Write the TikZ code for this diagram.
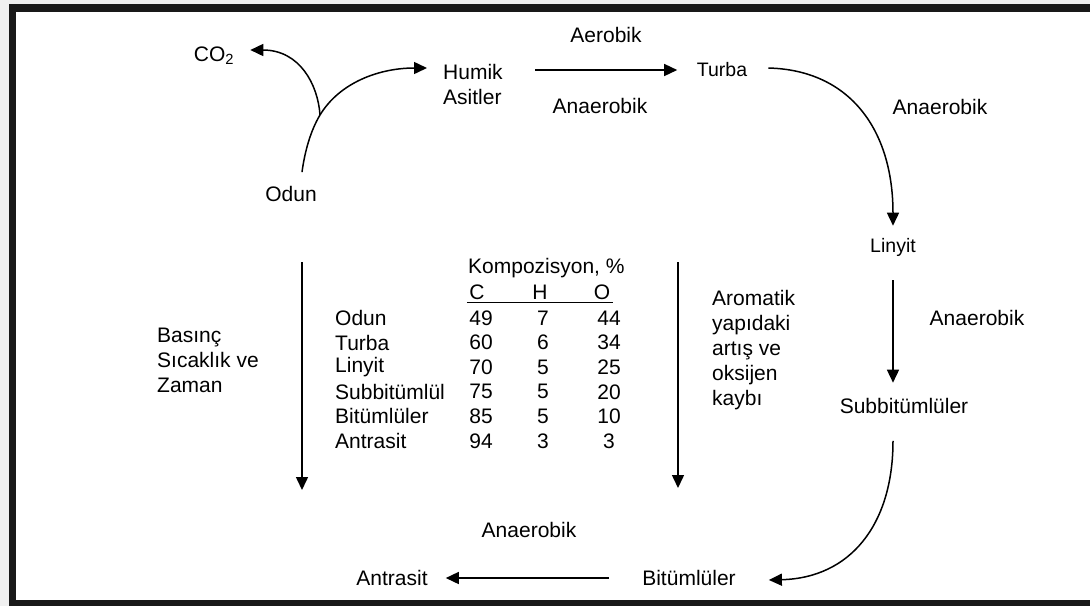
\documentclass[tikz,border=0pt]{standalone}
\usepackage{fontspec}
\setmainfont{Liberation Sans}
\usetikzlibrary{positioning}
\usetikzlibrary{arrows.meta}
\usetikzlibrary{calc}

\tikzset{
  lbl/.style={inner sep=0pt, font=\fontsize{21}{25}\selectfont},
  sml/.style={inner sep=0pt, font=\fontsize{19.5}{24}\selectfont},
  arr/.style={line width=1.5pt, -{Triangle[length=13pt,width=12pt]}},
}

\begin{document}
\begin{tikzpicture}[x=1pt, y=-1pt]
		% Frame of the picture
		\useasboundingbox (0,0) rectangle (1090,606);
		\fill[gray!12] (0,0) rectangle (1090,606);
		\fill[white] (16,12) rectangle (1090,600);
		\fill[black!90] (9,4) rectangle (1090,12);
		\fill[black!90] (9,4) rectangle (16,606);
		\fill[black!90] (9,600) rectangle (1090,606);

		% Define the nodes of the cycle
		\node[lbl] (coo) at (214,56) {CO\textsubscript{2}};
		\node[lbl] (odun) at (291,194) {Odun};
		\node[lbl, anchor=west, align=left] (humik) at (443,84.5) {Humik\\Asitler};
		\node[sml] (turba) at (722,70) {Turba};
		\node[sml] (linyit) at (893,247) {Linyit};
		\node[lbl] (subbit) at (904,406) {Subbitümlüler};
		\node[lbl] (bitum) at (689,578) {Bitümlüler};
		\node[lbl] (antrasit) at (392,578) {Antrasit};

		% Labels on the arrows
		\node[lbl] (aerob) at (606,35) {Aerobik};
		\foreach \x/\y [count=\i] in {600/106, 940/107, 977/318, 529/530}
		\node[lbl] (anaer\i) at (\x,\y) {Anaerobik};
		\node[lbl, anchor=west, align=left] (basinc) at (157,360) {Basınç\\Sıcaklık ve\\Zaman};
		\node[lbl, anchor=west, align=left] (aromatik) at (712,350) {Aromatik\\yapıdaki\\artış ve\\oksijen\\kaybı};

		% Define the coordinates of the free ends
		\coordinate (root) at ($(odun.north)+(11,-14)$);
		\coordinate (split) at (320,115);
		\coordinate (ltop) at (302,262);
		\coordinate (lbot) at (302,490);
		\coordinate (rtop) at (678,262);
		\coordinate (rbot) at (678,488);

		% Draw the arrows
		\draw[arr] (root) .. controls (305,150) and (311,130) .. (split)
		.. controls (340,82) and (380,68) .. ($(humik.west)+(-16,-16.5)$);
		\draw[arr] (split) .. controls (318,85) and (300,50) .. ($(coo.east)+(16,-6)$);
		\draw[arr, shorten <=32.5pt, shorten >=19.5pt] (humik.east |- turba.west) -- (turba.west);
		\draw[arr] ($(turba.east)+(21,-2)$) .. controls (850,70) and (893,130) .. ($(linyit.north)+(0,-12)$);
		\draw[arr, shorten <=24pt, shorten >=15.4pt] (linyit.south) -- (linyit.south |- subbit.north);
		\draw[arr] ($(subbit.south)+(-11,27)$) .. controls (893,525) and (850,578) .. ($(bitum.east)+(33,2)$);
		\draw[arr, shorten <=33pt, shorten >=18pt] (bitum.west) -- (antrasit.east);
		\draw[arr] (ltop) -- (lbot);
		\draw[arr] (rtop) -- (rbot);

		% Composition table
		\node[lbl, anchor=west] (kompo) at (468,268) {Kompozisyon, \%};
		\foreach \point/\label/\x in {hc/C/477, hh/H/540, ho/O/602}
		\node[lbl] (\point) at (\x,292) {\label};
		\draw[line width=1.2pt] ($(hc.south west)+(-2.4,2.5)$) -- ($(ho.south east)+(3,2.5)$);
		\foreach \name/\cc/\hh/\oo [count=\i from 0] in {Odun/49/7/44, Turba/60/6/34, Linyit/70/5/25, Subbitümlül/75/5/20, Bitümlüler/85/5/10, Antrasit/94/3/3}
		{
			\node[lbl, anchor=west] (row\i) at (335,{318+24.6*\i}) {\name};
			\node[lbl] (c\i) at (481,{318+24.6*\i}) {\cc};
			\node[lbl] (h\i) at (543,{318+24.6*\i}) {\hh};
			\node[lbl] (o\i) at (609,{318+24.6*\i}) {\oo};
		}
\end{tikzpicture}
\end{document}
